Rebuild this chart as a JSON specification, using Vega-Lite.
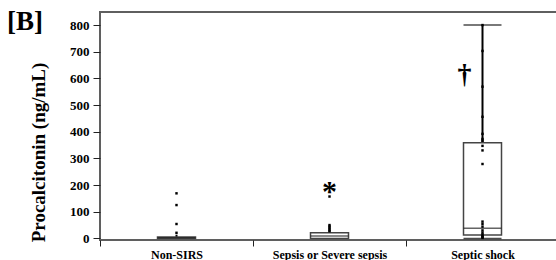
{
  "$schema": "https://vega.github.io/schema/vega-lite/v6.json",
  "width": 459,
  "height": 228,
  "autosize": {"type": "none"},
  "padding": {"left": 100, "top": 12, "right": 0, "bottom": 30},
  "background": "white",
  "title": {
    "text": "[B]",
    "anchor": "start",
    "frame": "group",
    "font": "Liberation Serif",
    "fontSize": 27,
    "fontWeight": "bold",
    "color": "black",
    "dx": -93,
    "dy": 28
  },
  "config": {
    "view": {"stroke": "#5f5f5f", "strokeWidth": 2},
    "axis": {
      "labelFont": "Liberation Serif",
      "labelFontWeight": "bold",
      "labelColor": "black",
      "labelFontSize": 12,
      "labelOverlap": false,
      "titleFont": "Liberation Serif",
      "titleFontWeight": "bold",
      "titleColor": "black",
      "tickColor": "#222",
      "tickWidth": 1,
      "grid": false,
      "domain": false
    },
    "axisY": {
      "tickSize": 7,
      "labelPadding": 4,
      "labelFontSize": 13,
      "titleFontSize": 19,
      "titleAngle": -90,
      "titleX": -62,
      "titleY": 140,
      "titleAlign": "center",
      "titleBaseline": "middle"
    }
  },
  "datasets": {
    "boxes": [
      {"group": "Non-SIRS", "lower": 0, "q1": 0, "median": 2, "q3": 5, "upper": 14},
      {"group": "Sepsis or Severe sepsis", "lower": 0, "q1": 0, "median": 9, "q3": 21, "upper": 50},
      {"group": "Septic shock", "lower": 0, "q1": 13, "median": 38, "q3": 359, "upper": 800}
    ],
    "caps": [
      {"group": "Septic shock", "value": 800},
      {"group": "Septic shock", "value": 0}
    ],
    "points": [
      {"group": "Non-SIRS", "value": 169},
      {"group": "Non-SIRS", "value": 125},
      {"group": "Non-SIRS", "value": 54},
      {"group": "Non-SIRS", "value": 21},
      {"group": "Sepsis or Severe sepsis", "value": 157},
      {"group": "Sepsis or Severe sepsis", "value": 50},
      {"group": "Sepsis or Severe sepsis", "value": 42},
      {"group": "Sepsis or Severe sepsis", "value": 34},
      {"group": "Sepsis or Severe sepsis", "value": 27},
      {"group": "Septic shock", "value": 800},
      {"group": "Septic shock", "value": 703},
      {"group": "Septic shock", "value": 569},
      {"group": "Septic shock", "value": 456},
      {"group": "Septic shock", "value": 392},
      {"group": "Septic shock", "value": 373},
      {"group": "Septic shock", "value": 366},
      {"group": "Septic shock", "value": 347},
      {"group": "Septic shock", "value": 330},
      {"group": "Septic shock", "value": 279},
      {"group": "Septic shock", "value": 63},
      {"group": "Septic shock", "value": 54},
      {"group": "Septic shock", "value": 44},
      {"group": "Septic shock", "value": 30},
      {"group": "Septic shock", "value": 22},
      {"group": "Septic shock", "value": 15},
      {"group": "Septic shock", "value": 10},
      {"group": "Septic shock", "value": 5},
      {"group": "Septic shock", "value": 2}
    ],
    "notes": [
      {"group": "Sepsis or Severe sepsis", "value": 202, "label": "*"},
      {"group": "Septic shock", "value": 612, "label": "†"}
    ]
  },
  "encoding": {
    "x": {
      "field": "group",
      "type": "nominal",
      "sort": ["Non-SIRS", "Sepsis or Severe sepsis", "Septic shock"],
      "scale": {"paddingInner": 0, "paddingOuter": 0},
      "axis": {
        "title": null,
        "labelAngle": 0,
        "tickBand": "extent",
        "tickSize": 6,
        "labelPadding": 3,
        "labelFontSize": 12
      }
    }
  },
  "layer": [
    {
      "data": {"name": "boxes"},
      "mark": {"type": "rule", "color": "black", "strokeWidth": 2},
      "encoding": {
        "y": {
          "field": "lower",
          "type": "quantitative",
          "scale": {"domain": [-6, 849], "nice": false, "zero": false},
          "axis": {"title": "Procalcitonin (ng/mL)", "values": [0, 100, 200, 300, 400, 500, 600, 700, 800], "labelOverlap": false}
        },
        "y2": {"field": "upper"}
      }
    },
    {
      "data": {"name": "boxes"},
      "mark": {"type": "bar", "fill": "white", "stroke": "#444", "strokeWidth": 1.5, "width": 38},
      "encoding": {
        "y": {"field": "q1", "type": "quantitative", "axis": {"title": "Procalcitonin (ng/mL)", "values": [0, 100, 200, 300, 400, 500, 600, 700, 800], "labelOverlap": false}},
        "y2": {"field": "q3"}
      }
    },
    {
      "data": {"name": "boxes"},
      "mark": {"type": "tick", "color": "#222", "thickness": 1.5, "size": 38},
      "encoding": {
        "y": {"field": "median", "type": "quantitative", "axis": {"title": "Procalcitonin (ng/mL)", "values": [0, 100, 200, 300, 400, 500, 600, 700, 800], "labelOverlap": false}}
      }
    },
    {
      "data": {"name": "caps"},
      "mark": {"type": "tick", "color": "black", "thickness": 1.5, "size": 38},
      "encoding": {
        "y": {"field": "value", "type": "quantitative", "axis": {"title": "Procalcitonin (ng/mL)", "values": [0, 100, 200, 300, 400, 500, 600, 700, 800], "labelOverlap": false}}
      }
    },
    {
      "data": {"name": "points"},
      "mark": {"type": "point", "shape": "square", "filled": true, "size": 6, "color": "black", "opacity": 1},
      "encoding": {
        "y": {"field": "value", "type": "quantitative", "axis": {"title": "Procalcitonin (ng/mL)", "values": [0, 100, 200, 300, 400, 500, 600, 700, 800], "labelOverlap": false}}
      }
    },
    {
      "data": {"name": "notes"},
      "transform": [{"filter": "datum.label === '*'"}],
      "mark": {"type": "text", "font": "Liberation Serif", "fontWeight": "bold", "fontSize": 30, "color": "black", "baseline": "middle", "dy": 7},
      "encoding": {
        "y": {"field": "value", "type": "quantitative", "axis": {"title": "Procalcitonin (ng/mL)", "values": [0, 100, 200, 300, 400, 500, 600, 700, 800], "labelOverlap": false}},
        "text": {"field": "label"}
      }
    },
    {
      "data": {"name": "notes"},
      "transform": [{"filter": "datum.label === '†'"}],
      "mark": {"type": "text", "font": "Liberation Serif", "fontWeight": "bold", "fontSize": 28, "color": "black", "baseline": "middle", "dx": -18},
      "encoding": {
        "y": {"field": "value", "type": "quantitative", "axis": {"title": "Procalcitonin (ng/mL)", "values": [0, 100, 200, 300, 400, 500, 600, 700, 800], "labelOverlap": false}},
        "text": {"field": "label"}
      }
    }
  ]
}
